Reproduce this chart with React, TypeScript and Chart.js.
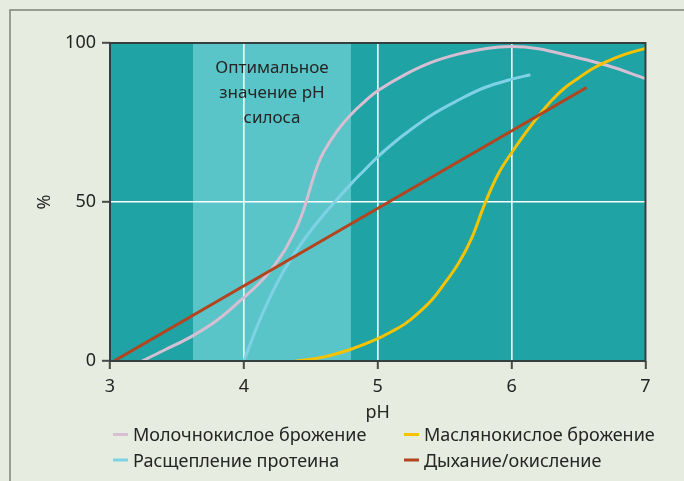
import React, { useEffect, useRef } from 'react';
import { Chart, registerables } from 'chart.js';

Chart.register(...registerables);

// ---- data ----
const lacticPH = [3.24, 3.4, 3.6, 3.8, 4.0, 4.1, 4.2, 4.3, 4.35, 4.4, 4.45, 4.5, 4.55, 4.6, 4.7, 4.8, 4.9, 5.0, 5.2, 5.4, 5.6, 5.8, 6.0, 6.2, 6.43, 6.71, 7.0];
const lacticPct = [0, 3.3, 7.5, 12.8, 20, 23.8, 28.5, 34.5, 38.3, 42.5, 48, 55, 61.5, 66, 72.5, 77.5, 81.5, 85, 90, 93.9, 96.5, 98.2, 98.9, 98.2, 96, 93, 88.8];

const proteinPH = [4.0, 4.1, 4.2, 4.3, 4.4, 4.5, 4.6, 4.7, 4.8, 4.9, 5.0, 5.1, 5.2, 5.4, 5.6, 5.8, 6.0, 6.14];
const proteinPct = [0, 11, 20.5, 28.5, 35.2, 41, 46.2, 51, 55.7, 60, 64.2, 67.9, 71.3, 77.3, 82, 86, 88.6, 90];

const butyricPH = [4.39, 4.6, 4.8, 5.0, 5.1, 5.2, 5.3, 5.4, 5.5, 5.6, 5.7, 5.8, 5.9, 6.0, 6.1, 6.2, 6.3, 6.4, 6.5, 6.6, 6.7, 6.85, 7.0];
const butyricPct = [0, 1.3, 3.7, 7, 9.2, 11.6, 15, 19, 24.5, 30.5, 38.5, 49.5, 58.8, 65.5, 71.5, 77, 82, 86, 89, 91.8, 94, 96.5, 98.3];

const respPH = [3.03, 6.56];
const respPct = [0, 86];

const seriesNames = ['Молочнокислое брожение', 'Маслянокислое брожение', 'Расщепление протеина', 'Дыхание/окисление'];
const bandRange = [3.62, 4.8];
const bandText = ['Оптимальное', 'значение pH', 'силоса'];
const xTitle = 'pH';
const yTitle = '%';

// ---- styles ----
const FONT = '"Noto Sans", sans-serif';
const BG = '#e6ecdf';
const TEAL = '#1fa3a4';
const BAND = '#5ac5c8';
const PINK = '#d6bfd2';
const YELLOW = '#f7c300';
const BLUE = '#7fd2e6';
const RED = '#b3441d';
const TEXT = '#252525';
const BORDER = '#34403f';

export default function App() {
  const ref = useRef<HTMLCanvasElement>(null);

  useEffect(() => {
    document.body.style.margin = '0';
    const pts = (xs: number[], ys: number[]) => xs.map((x, i) => ({ x, y: ys[i] }));

    const decor = {
      id: 'decor',
      beforeDraw(chart: any) {
        const { ctx, chartArea: a, scales } = chart;
        ctx.save();
        ctx.fillStyle = BG;
        ctx.fillRect(0, 0, chart.width, chart.height);
        ctx.fillStyle = TEAL;
        ctx.fillRect(a.left, a.top, a.right - a.left, a.bottom - a.top);
        const x0 = scales.x.getPixelForValue(bandRange[0]);
        const x1 = scales.x.getPixelForValue(bandRange[1]);
        ctx.fillStyle = BAND;
        ctx.fillRect(x0, a.top, x1 - x0, a.bottom - a.top);
        ctx.restore();
      },
      afterDatasetsDraw(chart: any) {
        const { ctx, chartArea: a, scales } = chart;
        ctx.save();
        ctx.strokeStyle = BORDER;
        ctx.lineWidth = 2;
        ctx.strokeRect(a.left, a.top, a.right - a.left, a.bottom - a.top);
        const cx = (scales.x.getPixelForValue(bandRange[0]) + scales.x.getPixelForValue(bandRange[1])) / 2;
        ctx.fillStyle = TEXT;
        ctx.font = `17px ${FONT}`;
        ctx.textAlign = 'center';
        ctx.textBaseline = 'alphabetic';
        const base = [72.5, 98.3, 123];
        bandText.forEach((t, i) => ctx.fillText(t, cx, base[i]));
        ctx.restore();
      },
      afterDraw(chart: any) {
        const { ctx } = chart;
        ctx.save();
        ctx.strokeStyle = '#7f8577';
        ctx.lineWidth = 1.5;
        ctx.beginPath();
        ctx.moveTo(10, chart.height + 2);
        ctx.lineTo(10, 10);
        ctx.lineTo(chart.width + 2, 10);
        ctx.stroke();
        const colors = [PINK, YELLOW, BLUE, RED];
        const cols = [113, 404];
        const rows = [441, 466.5];
        ctx.font = `18px ${FONT}`;
        ctx.textAlign = 'left';
        ctx.textBaseline = 'alphabetic';
        seriesNames.forEach((name, i) => {
          const cx = cols[i % 2];
          const by = rows[Math.floor(i / 2)];
          ctx.strokeStyle = colors[i];
          ctx.lineWidth = 3;
          ctx.beginPath();
          ctx.moveTo(cx, by - 6.5);
          ctx.lineTo(cx + 15, by - 6.5);
          ctx.stroke();
          ctx.fillStyle = TEXT;
          ctx.fillText(name, cx + 20, by);
        });
        ctx.restore();
      },
    };

    const chart = new Chart(ref.current as HTMLCanvasElement, {
      type: 'line',
      data: {
        datasets: [
          { label: seriesNames[3], data: pts(respPH, respPct), borderColor: RED },
          { label: seriesNames[1], data: pts(butyricPH, butyricPct), borderColor: YELLOW },
          { label: seriesNames[2], data: pts(proteinPH, proteinPct), borderColor: BLUE },
          { label: seriesNames[0], data: pts(lacticPH, lacticPct), borderColor: PINK },
        ].map((d) => ({
          ...d,
          borderWidth: 3,
          pointRadius: 0,
          fill: false,
          tension: 0.4,
          cubicInterpolationMode: 'default' as const,
        })),
      },
      options: {
        responsive: false,
        animation: false,
        layout: { padding: { left: 0, right: 38.5, top: 43, bottom: 57 } },
        plugins: { legend: { display: false }, tooltip: { enabled: false } },
        scales: {
          x: {
            type: 'linear',
            min: 3,
            max: 7,
            afterFit: (s: any) => { s.height = 63; },
            ticks: { stepSize: 1, color: TEXT, font: { family: FONT, size: 18 }, padding: 7, maxRotation: 0 },
            grid: { color: '#ffffff', lineWidth: 1.6, tickColor: '#4a4a4a', tickWidth: 2, tickLength: 8 },
            border: { display: false },
            title: { display: true, text: xTitle, color: TEXT, font: { family: FONT, size: 18 }, padding: 0 },
          },
          y: {
            min: 0,
            max: 100,
            afterFit: (s: any) => { s.width = 110; },
            ticks: { stepSize: 50, color: TEXT, font: { family: FONT, size: 18 }, padding: 6 },
            grid: { color: '#ffffff', lineWidth: 1.6, tickColor: '#4a4a4a', tickWidth: 2, tickLength: 8 },
            border: { display: false },
            title: { display: true, text: yTitle, color: TEXT, font: { family: FONT, size: 18 }, padding: { top: 34, bottom: 0 } },
          },
        },
      },
      plugins: [decor],
    } as any);

    return () => chart.destroy();
  }, []);

  return (
    <div style={{ width: 684, height: 481 }}>
      <canvas ref={ref} width={684} height={481} style={{ display: 'block' }} />
    </div>
  );
}
